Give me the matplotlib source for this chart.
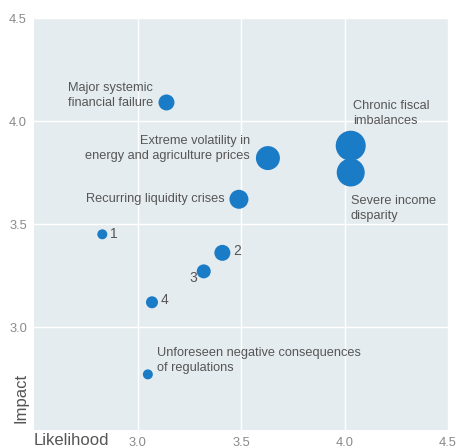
import matplotlib
matplotlib.use("Agg")
import matplotlib.pyplot as plt

plt.rcParams['font.family'] = ['Liberation Sans', 'DejaVu Sans']

# Risk bubbles: likelihood (x), impact (y), bubble diameter in px
labels = [
    "Major systemic\nfinancial failure",
    "Extreme volatility in\nenergy and agriculture prices",
    "Recurring liquidity crises",
    "Chronic fiscal\nimbalances",
    "Severe income\ndisparity",
    "1", "2", "3", "4",
    "Unforeseen negative consequences\nof regulations",
]
likelihood = [3.14, 3.63, 3.49, 4.03, 4.03, 2.83, 3.41, 3.32, 3.07, 3.05]
impact = [4.09, 3.82, 3.62, 3.88, 3.75, 3.45, 3.36, 3.27, 3.12, 2.77]
diameter = [16, 24, 19, 30, 28, 10, 16, 14, 12, 10]

# label offsets in points and alignment
label_pos = [
    ((-9.5, 5), 'right'),
    ((-13, 6.8), 'right'),
    ((-10, 0), 'right'),
    ((2, 23.5), 'left'),
    ((0, -26), 'left'),
    ((5.5, 0), 'left'),
    ((8, 1), 'left'),
    ((-5, -5), 'right'),
    ((6.5, 2), 'left'),
    ((6.5, 10), 'left'),
]

x_ticks = [3.0, 3.5, 4.0, 4.5]
y_ticks = [3.0, 3.5, 4.0, 4.5]

DPI = 100
fig = plt.figure(figsize=(4.57, 4.48), dpi=DPI)
ax = fig.add_axes([34 / 457, 18 / 448, 414 / 457, 412 / 448])
ax.set_facecolor('#e5ecf0')
ax.set_xlim(2.5, 4.5)
ax.set_ylim(2.5, 4.5)

ax.set_xticks(x_ticks)
ax.set_yticks(y_ticks)
ax.set_xticklabels([f"{v:.1f}" for v in x_ticks])
ax.set_yticklabels([f"{v:.1f}" for v in y_ticks])
ax.tick_params(length=0, labelsize=9.3, colors='#8a8a8a', pad=5)
for s in ax.spines.values():
    s.set_visible(False)
ax.grid(True, color='white', linewidth=1.0)
ax.set_axisbelow(True)

px2pt = 72 / DPI
sizes = [(d * px2pt) ** 2 for d in diameter]
ax.scatter(likelihood, impact, s=sizes, color='#1a7bc6', edgecolors='none', zorder=3)

for lab, x, y, (off, ha) in zip(labels, likelihood, impact, label_pos):
    fs = 10 if len(lab) == 1 else 9.2
    ax.annotate(lab, (x, y), xytext=off, textcoords='offset points',
                ha=ha, va='center', multialignment=ha, fontsize=fs, color='#555555',
                linespacing=1.35, zorder=4)

fig.text(34 / 457, 8 / 448, "Likelihood", fontsize=12, color='#555555',
         ha='left', va='center')
fig.text(21 / 457, 25 / 448, "Impact", fontsize=12, color='#555555',
         rotation=90, ha='center', va='bottom')

fig.savefig('out.png', dpi=DPI)
